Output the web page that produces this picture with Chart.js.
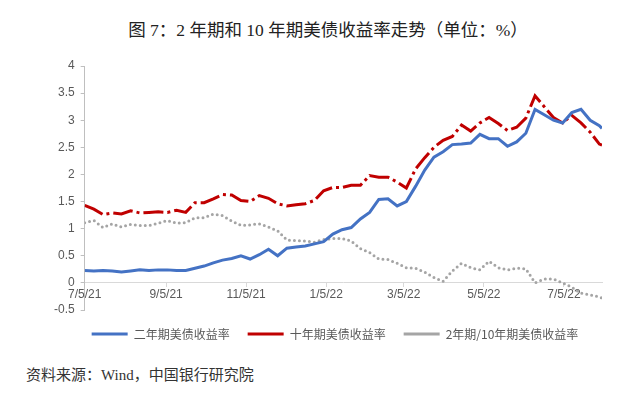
<!DOCTYPE html>
<html lang="zh-CN">
<head>
<meta charset="UTF-8" />
<title>2年期和10年期美债收益率走势</title>
<script src="https://cdn.jsdelivr.net/npm/chart.js"></script>
<style>
  body { margin: 0; background: #fff; }
  #wrap { position: relative; width: 640px; height: 394px; overflow: hidden; }
  #title { position: absolute; top: 16px; left: 8px; width: 640px; text-align: center;
           font: 17.5px "Liberation Serif", "Noto Sans CJK SC"; color: #222; }
  #box { position: absolute; left: 0; top: 0; width: 640px; height: 352px; }
  #source { position: absolute; left: 26px; top: 363px;
            font: 15px "Liberation Serif", "Noto Sans CJK SC"; color: #333; }
</style>
</head>
<body>
<div id="wrap">
  <div id="title">图 7：2 年期和 10 年期美债收益率走势（单位：%）</div>
  <div id="box"><canvas id="chart"></canvas></div>
  <div id="source">资料来源：Wind，中国银行研究院</div>
</div>

<script>
// weekly readings, 2021-07-05 .. 2022-08-03
const dates = [
  '2021-07-05','2021-07-12','2021-07-19','2021-07-26','2021-08-02','2021-08-09','2021-08-16','2021-08-23',
  '2021-08-30','2021-09-06','2021-09-13','2021-09-20','2021-09-27','2021-10-04','2021-10-11','2021-10-18',
  '2021-10-25','2021-11-01','2021-11-08','2021-11-15','2021-11-22','2021-11-29','2021-12-06','2021-12-13',
  '2021-12-20','2021-12-27','2022-01-03','2022-01-10','2022-01-17','2022-01-24','2022-01-31','2022-02-07',
  '2022-02-14','2022-02-21','2022-02-28','2022-03-07','2022-03-14','2022-03-21','2022-03-28','2022-04-04',
  '2022-04-11','2022-04-18','2022-04-25','2022-05-02','2022-05-09','2022-05-16','2022-05-23','2022-05-30',
  '2022-06-06','2022-06-13','2022-06-20','2022-06-27','2022-07-04','2022-07-11','2022-07-18','2022-07-25',
  '2022-08-01','2022-08-03'
];
const yield2y = [
  0.23, 0.22, 0.23, 0.22, 0.20, 0.22, 0.24, 0.23, 0.24, 0.24, 0.23, 0.23, 0.27, 0.31, 0.37, 0.42,
  0.45, 0.50, 0.44, 0.52, 0.62, 0.50, 0.64, 0.66, 0.68, 0.72, 0.76, 0.90, 0.98, 1.02, 1.18, 1.30,
  1.54, 1.55, 1.42, 1.50, 1.78, 2.08, 2.32, 2.42, 2.55, 2.56, 2.58, 2.74, 2.66, 2.66, 2.52, 2.60,
  2.76, 3.20, 3.10, 3.00, 2.95, 3.14, 3.20, 3.00, 2.90, 2.85
];
const yield10y = [
  1.43, 1.36, 1.26, 1.29, 1.27, 1.33, 1.29, 1.30, 1.31, 1.30, 1.34, 1.30, 1.48, 1.48, 1.55, 1.63,
  1.62, 1.52, 1.50, 1.61, 1.56, 1.46, 1.42, 1.44, 1.46, 1.52, 1.70, 1.76, 1.76, 1.80, 1.80, 1.98,
  1.95, 1.95, 1.86, 1.75, 2.10, 2.31, 2.50, 2.63, 2.70, 2.91, 2.80, 2.95, 3.05, 2.94, 2.81, 2.87,
  3.04, 3.45, 3.25, 3.05, 2.95, 3.09, 2.95, 2.78, 2.56, 2.54
];
const spread = [
  1.11, 1.15, 1.02, 1.09, 1.03, 1.08, 1.06, 1.06, 1.10, 1.15, 1.10, 1.11, 1.20, 1.20, 1.27, 1.24,
  1.14, 1.06, 1.07, 1.09, 1.03, 0.96, 0.79, 0.78, 0.77, 0.75, 0.80, 0.82, 0.82, 0.77, 0.63, 0.56,
  0.44, 0.43, 0.36, 0.28, 0.27, 0.20, 0.10, 0.03, 0.22, 0.36, 0.28, 0.24, 0.40, 0.28, 0.24, 0.27,
  0.26, 0.00, 0.07, 0.07, 0.00, -0.08, -0.19, -0.22, -0.26, -0.28
];
const tickDates  = ['2021-07-05','2021-09-05','2021-11-05','2022-01-05','2022-03-05','2022-05-05','2022-07-05'];
const tickLabels = ['7/5/21','9/5/21','11/5/21','1/5/22','3/5/22','5/5/22','7/5/22'];
const seriesNames = ['二年期美债收益率', '十年期美债收益率', '2年期/10年期美债收益率'];

// helpers ----------------------------------------------------
const t0 = Date.UTC(2021, 6, 5);
function dayOf(s) {
  const [y, m, d] = s.split('-').map(Number);
  return (Date.UTC(y, m - 1, d) - t0) / 86400000;
}
const pts = vals => dates.map((d, i) => ({ x: dayOf(d), y: vals[i] }));

const tickFont = { family: 'Liberation Sans', size: 12 };

// the original legend sits a bit right of the canvas centre
const legendShift = {
  id: 'legendShift',
  afterLayout: c => { c.legend.left += 10; c.legend.right += 10; }
};

new Chart(document.getElementById('chart'), {
  type: 'line',
  data: {
    datasets: [
      { label: seriesNames[0], data: pts(yield2y), borderColor: '#4472c4', backgroundColor: '#4472c4',
        borderWidth: 3, pointRadius: 0 },
      { label: seriesNames[1], data: pts(yield10y), borderColor: '#c00000', backgroundColor: '#c00000',
        borderWidth: 3, pointRadius: 0, borderDash: [20, 4, 3, 4] },
      { label: seriesNames[2], data: pts(spread), borderColor: '#a5a5a5', backgroundColor: '#a5a5a5',
        borderWidth: 3, pointRadius: 0, borderDash: [0, 5], borderCapStyle: 'round' }
    ]
  },
  options: {
    responsive: true,
    maintainAspectRatio: false,
    animation: false,
    layout: { padding: { top: 66, left: 48, right: 38, bottom: 2 } },
    plugins: {
      legend: {
        position: 'bottom',
        labels: {
          usePointStyle: true, pointStyle: 'line', pointStyleWidth: 36,
          color: '#595959', padding: 18,
          font: { family: 'Noto Sans CJK SC', size: 12 }
        }
      },
      tooltip: { enabled: false }
    },
    scales: {
      x: {
        type: 'linear',
        position: { y: 0 },
        min: 0,
        max: dayOf(dates[dates.length - 1]),
        afterBuildTicks: s => { s.ticks = tickDates.map(d => ({ value: dayOf(d) })); },
        ticks: { callback: (v, i) => tickLabels[i], color: '#595959', font: tickFont,
                 maxRotation: 0, autoSkip: false, padding: 1 },
        grid: { drawOnChartArea: false, tickLength: 4, color: '#d9d9d9' },
        border: { color: '#d9d9d9' }
      },
      y: {
        min: -0.5, max: 4,
        ticks: { stepSize: 0.5, color: '#595959', font: tickFont, padding: 6,
                 callback: v => String(+v.toFixed(1)) },
        grid: { drawOnChartArea: false, tickLength: 4, color: '#bfbfbf' },
        border: { color: '#bfbfbf' }
      }
    }
  },
  plugins: [legendShift]
});
</script>
</body>
</html>
